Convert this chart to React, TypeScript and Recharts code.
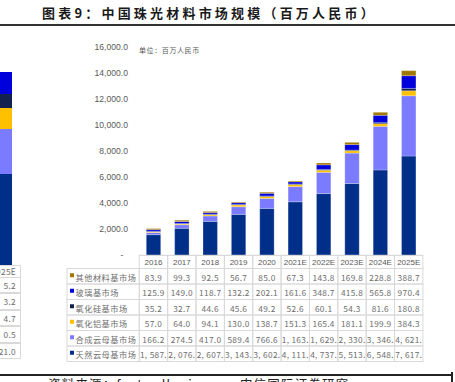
import React from 'react';
import { BarChart, Bar, XAxis, YAxis } from 'recharts';

const categories = ['2016', '2017', '2018', '2019', '2020', '2021E', '2022E', '2023E', '2024E', '2025E'];
const naturalMica = [1587.4, 2076.3, 2607.5, 3143.2, 3602.8, 4111.6, 4737.9, 5513.4, 6548.7, 7617.5];
const syntheticMica = [166.2, 274.5, 417.0, 589.4, 766.6, 1163.5, 1629.4, 2330.6, 3346.2, 4621.3];
const aluminaBase = [57.0, 64.0, 94.1, 130.0, 138.7, 151.3, 165.4, 181.1, 199.9, 384.3];
const silicaBase = [35.2, 32.7, 44.6, 45.6, 49.2, 52.6, 60.1, 54.3, 81.6, 180.8];
const glassBase = [125.9, 149.0, 118.7, 132.2, 202.1, 161.6, 348.7, 415.8, 565.8, 970.4];
const otherBase = [83.9, 99.3, 92.5, 56.7, 85.0, 67.3, 143.8, 169.8, 228.8, 388.7];
const yTicks = [0, 2000, 4000, 6000, 8000, 10000, 12000, 14000, 16000];

const titleText = '图表9：中国珠光材料市场规模（百万人民币）';
const unitText = '单位：百万人民币';
const sourceText = '资料来源：factordbmi.com，中信国际证券研究';

// fragment of the neighbouring chart visible at the left edge
const fragmentValues = [91, 45, 21, 14, 22];
const fragmentColors = ['#002F8A', '#7B7BFF', '#FFC000', '#13214F', '#0000DD'];
const fragmentHeader = '025E';
const fragmentCells = ['5.2', '3.2', '4.7', '0.5', '21.0'];

const C_NATURAL = '#002F8A';
const C_SYNTH = '#7B7BFF';
const C_ALUMINA = '#FFC000';
const C_SILICA = '#13214F';
const C_GLASS = '#0000DD';
const C_OTHER = '#A07800';

const tableRows = [
  { name: '其他材料基市场', values: otherBase, color: C_OTHER },
  { name: '玻璃基市场', values: glassBase, color: C_GLASS },
  { name: '氧化硅基市场', values: silicaBase, color: C_SILICA },
  { name: '氧化铝基市场', values: aluminaBase, color: C_ALUMINA },
  { name: '合成云母基市场', values: syntheticMica, color: C_SYNTH },
  { name: '天然云母基市场', values: naturalMica, color: C_NATURAL },
];

const data = categories.map((c, i) => ({
  category: c,
  natural: naturalMica[i],
  synth: syntheticMica[i],
  alumina: aluminaBase[i],
  silica: silicaBase[i],
  glass: glassBase[i],
  other: otherBase[i],
}));

const fragmentData = [
  { k: 'f', a: fragmentValues[0], b: fragmentValues[1], c: fragmentValues[2], d: fragmentValues[3], e: fragmentValues[4] },
];

const W = 455;
const H = 382;
const M_TOP = 46.7;
const M_RIGHT = 32.1;
const M_BOTTOM = 20.3;
const Y_W = 139.3;
const X_H = 106.3;
const PLOT_BOTTOM = H - M_BOTTOM - X_H;
const BAND = (W - M_RIGHT - Y_W) / categories.length;
const HEADER_H = 13.1;
const ROW_H = 15.5;
const LEGEND_W = 72.3;
const GRID = '#D9D9D9';
const TXT = '#595959';
const TXT_LIGHT = '#6e6e6e';
const CJK = '"Noto Sans CJK SC", "Noto Sans", sans-serif';

const fmtCell = (v: number) => {
  const [int, dec] = v.toFixed(1).split('.');
  const sep = int.replace(/\B(?=(\d{3})+(?!\d))/g, ', ');
  return (sep + '.' + dec).slice(0, 7);
};

const fmtY = (v: number) =>
  v === 0 ? '-' : v.toLocaleString('en-US', { minimumFractionDigits: 1, maximumFractionDigits: 1 });

const YTick = (props: any) => {
  const { x, y, payload } = props;
  const shift = payload.value === 0 ? 16 : 11.3;
  return (
    <text
      x={x - shift}
      y={y}
      textAnchor="end"
      dominantBaseline="central"
      fontSize={8.6}
      fill={TXT}
      fontFamily='"Liberation Sans", Arial, sans-serif'
    >
      {fmtY(payload.value)}
    </text>
  );
};

const TableTick = (props: any) => {
  const { x, payload } = props;
  const idx = categories.indexOf(payload.value);
  const top = PLOT_BOTTOM;
  const left = x - BAND / 2;
  const rowsTop = top + HEADER_H;
  return (
    <g>
      <rect x={left} y={top} width={BAND} height={HEADER_H} fill="none" stroke={GRID} strokeWidth={1} />
      <text
        x={x}
        y={top + HEADER_H / 2 + 0.5}
        textAnchor="middle"
        dominantBaseline="central"
        fontSize={8}
        fill={TXT}
        fontFamily='"Liberation Sans", Arial, sans-serif'
      >
        {payload.value}
      </text>
      {tableRows.map((r, ri) => (
        <g key={ri}>
          <rect x={left} y={rowsTop + ri * ROW_H} width={BAND} height={ROW_H} fill="none" stroke={GRID} strokeWidth={1} />
          <text
            x={x}
            y={rowsTop + ri * ROW_H + ROW_H / 2 + 0.5}
            textAnchor="middle"
            dominantBaseline="central"
            fontSize={8.3}
            letterSpacing={0.3}
            fill={TXT_LIGHT}
            fontFamily={CJK}
          >
            {fmtCell(r.values[idx])}
          </text>
        </g>
      ))}
      {idx === 0 &&
        tableRows.map((r, ri) => (
          <g key={'l' + ri}>
            <rect
              x={left - LEGEND_W}
              y={rowsTop + ri * ROW_H}
              width={LEGEND_W}
              height={ROW_H}
              fill="none"
              stroke={GRID}
              strokeWidth={1}
            />
            <rect x={left - LEGEND_W + 3} y={rowsTop + ri * ROW_H + ROW_H / 2 - 3} width={4} height={4} fill={r.color} />
            <text
              x={left - LEGEND_W + 8.5}
              y={rowsTop + ri * ROW_H + ROW_H / 2 + 0.5}
              dominantBaseline="central"
              fontSize={8.2}
              letterSpacing={0.5}
              fill={TXT_LIGHT}
              fontFamily={CJK}
            >
              {r.name}
            </text>
          </g>
        ))}
    </g>
  );
};

const FragmentCell = ({ top, h, text }: { top: number; h: number; text: string }) => (
  <div
    style={{
      position: 'absolute',
      left: -20,
      top,
      width: 41,
      height: h,
      boxSizing: 'border-box',
      border: `1px solid ${GRID}`,
      fontFamily: CJK,
      fontSize: 8.3,
      letterSpacing: 0.3,
      color: TXT_LIGHT,
      lineHeight: `${h - 2}px`,
      textAlign: 'right',
      paddingRight: 4,
    }}
  >
    {text}
  </div>
);

export default function App() {
  return (
    <div style={{ position: 'absolute', left: 0, top: 0, width: W, height: H, overflow: 'hidden', background: '#fff' }}>
      {/* title */}
      <div
        style={{
          position: 'absolute',
          left: 42,
          top: 3,
          fontFamily: CJK,
          fontWeight: 700,
          fontSize: 13,
          letterSpacing: 3.2,
          lineHeight: '19px',
          color: '#1a1a1a',
          whiteSpace: 'nowrap',
        }}
      >
        {titleText}
      </div>
      <div style={{ position: 'absolute', left: 0, top: 24, width: W, height: 2, background: '#333' }} />

      {/* left fragment of neighbouring chart */}
      <div style={{ position: 'absolute', left: -16, top: 0 }}>
        <BarChart width={42} height={265} data={fragmentData} margin={{ top: 72, right: 0, bottom: 0, left: 0 }} barSize={14}>
          <XAxis dataKey="k" hide />
          <YAxis hide domain={[0, 'dataMax']} />
          {['a', 'b', 'c', 'd', 'e'].map((k, i) => (
            <Bar key={k} dataKey={k} stackId="f" fill={fragmentColors[i]} isAnimationActive={false} />
          ))}
        </BarChart>
      </div>
      <FragmentCell top={265} h={13} text={fragmentHeader} />
      {fragmentCells.map((t, i) => (
        <FragmentCell key={i} top={277 + i * 16.4} h={16.4} text={t} />
      ))}

      {/* main chart */}
      <div style={{ position: 'absolute', left: 0, top: 0 }}>
        <BarChart
          width={W}
          height={H}
          data={data}
          margin={{ top: M_TOP, right: M_RIGHT, bottom: M_BOTTOM, left: 0 }}
          barSize={14.4}
        >
          <XAxis
            dataKey="category"
            interval={0}
            height={X_H}
            tickLine={false}
            tickSize={0}
            tickMargin={0}
            axisLine={{ stroke: GRID }}
            tick={(p: any) => <TableTick {...p} />}
          />
          <YAxis
            width={Y_W}
            domain={[0, 16000]}
            ticks={yTicks}
            interval={0}
            axisLine={false}
            tickLine={false}
            tickSize={0}
            tickMargin={0}
            tick={(p: any) => <YTick {...p} />}
          />
          <Bar dataKey="natural" stackId="s" fill={C_NATURAL} stroke="#ffffff" strokeOpacity={0.4} strokeWidth={0.6} isAnimationActive={false} />
          <Bar dataKey="synth" stackId="s" fill={C_SYNTH} stroke="#ffffff" strokeOpacity={0.4} strokeWidth={0.6} isAnimationActive={false} />
          <Bar dataKey="alumina" stackId="s" fill={C_ALUMINA} stroke="#ffffff" strokeOpacity={0.4} strokeWidth={0.6} isAnimationActive={false} />
          <Bar dataKey="silica" stackId="s" fill={C_SILICA} stroke="#ffffff" strokeOpacity={0.4} strokeWidth={0.6} isAnimationActive={false} />
          <Bar dataKey="glass" stackId="s" fill={C_GLASS} stroke="#ffffff" strokeOpacity={0.4} strokeWidth={0.6} isAnimationActive={false} />
          <Bar dataKey="other" stackId="s" fill={C_OTHER} stroke="#ffffff" strokeOpacity={0.4} strokeWidth={0.6} isAnimationActive={false} />
        </BarChart>
      </div>

      {/* unit label */}
      <div
        style={{
          position: 'absolute',
          left: 139,
          top: 45,
          fontFamily: CJK,
          fontSize: 7,
          letterSpacing: 0.6,
          lineHeight: '10px',
          color: TXT,
          whiteSpace: 'nowrap',
        }}
      >
        {unitText}
      </div>

      {/* source footer */}
      <div style={{ position: 'absolute', left: 0, top: 374, width: 452, height: 2, background: '#222' }} />
      <div style={{ position: 'absolute', left: 451, top: 372, width: 2, height: 10, background: '#222' }} />
      <div
        style={{
          position: 'absolute',
          left: 48,
          top: 377,
          fontFamily: CJK,
          fontSize: 12.5,
          letterSpacing: 1.2,
          lineHeight: '14px',
          color: '#222',
          whiteSpace: 'nowrap',
        }}
      >
        {sourceText}
      </div>
    </div>
  );
}
